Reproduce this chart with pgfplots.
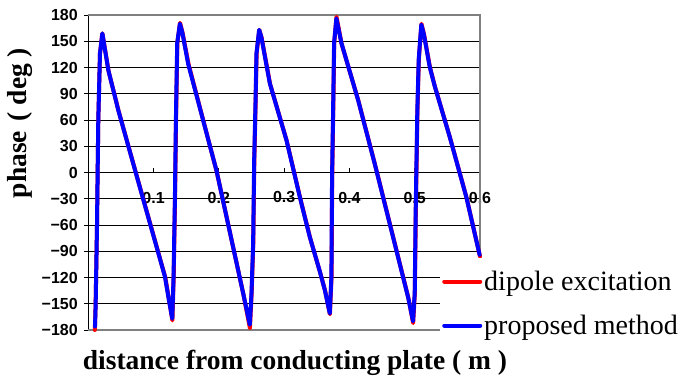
\documentclass[border=0pt]{standalone}
\usepackage{pgfplots}
\pgfplotsset{compat=1.18}
\usepackage{fontspec}
\setmainfont{Liberation Serif}
\setsansfont{Liberation Sans}

\pgfplotstableread{
x y
0.0100 -180
0.0112 -152
0.0133 -62
0.0153 60
0.0179 136
0.0215 159
0.0238 149
0.0310 116
0.0465 70
0.0720 2
0.0950 -59
0.1180 -120
0.1240 -147
0.1288 -169
0.1308 -119
0.1329 -28
0.1344 60
0.1364 148
0.1405 171
0.1443 160
0.1535 124
0.1970 0
0.2378 -140
0.2476 -178
0.2502 -138
0.2527 -81
0.2543 14
0.2563 79
0.2578 136
0.2619 163
0.2655 154
0.2785 101
0.3040 36
0.3245 -29
0.3395 -74
0.3550 -114
0.3627 -135
0.3701 -162
0.3726 -119
0.3736 -5
0.3752 71
0.3767 148
0.3802 178
0.3880 147
0.4137 82
0.4392 9
0.4647 -67
0.4902 -143
0.4976 -172
0.5002 -138
0.5017 -43
0.5042 71
0.5063 129
0.5103 170
0.5145 157
0.5234 120
0.5310 98
0.5540 40
0.5795 -29
0.6000 -96
}\dipole

\pgfplotstableread{
x y
0.0103 -176
0.0113 -150
0.0133 -62
0.0153 60
0.0179 136
0.0215 159
0.0235 150
0.0307 117
0.0460 71
0.0715 3
0.0944 -58
0.1174 -119
0.1235 -146
0.1286 -167
0.1306 -119
0.1327 -28
0.1342 60
0.1362 148
0.1403 170
0.1440 160
0.1530 124
0.1964 2
0.2372 -138
0.2474 -174
0.2500 -138
0.2525 -81
0.2541 14
0.2561 79
0.2576 136
0.2617 163
0.2650 155
0.2780 102
0.3035 37
0.3240 -28
0.3390 -73
0.3546 -113
0.3622 -134
0.3699 -161
0.3724 -119
0.3734 -5
0.3750 71
0.3765 148
0.3800 176
0.3877 148
0.4132 83
0.4387 10
0.4642 -66
0.4897 -142
0.4974 -170
0.5000 -138
0.5015 -43
0.5040 71
0.5061 129
0.5101 169
0.5140 158
0.5229 121
0.5305 99
0.5535 41
0.5790 -28
0.5994 -94
}\proposed

\begin{document}
\begin{tikzpicture}
\useasboundingbox (-88.3pt,-52pt) rectangle (593.7pt,330pt);
\begin{axis}[
  at={(0,0)}, anchor=south west,
  scale only axis,
  width=391.7pt, height=315pt,
  xmin=0, xmax=0.6, ymin=-180, ymax=180,
  axis x line*=middle, axis y line*=left,
  axis line style={black, line width=0.9pt},
  xtick={0,0.1,0.2,0.3,0.4,0.5,0.6},
  xticklabels={0,0.1,0.2,0.3,0.4,0.5,0.6},
  ytick={-180,-150,-120,-90,-60,-30,0,30,60,90,120,150,180},
  yticklabels={−180,−150,−120,−90,−60,−30,0,30,60,90,120,150,180},
  xtick align=inside, ytick align=outside,
  major tick length=4pt,
  tick style={black, line width=0.8pt},
  ymajorgrids,
  major grid style={black, line width=0.8pt},
  tick label style={font=\sffamily\bfseries\fontsize{16}{18}\selectfont},
  xticklabel style={anchor=center, yshift=-25pt},
  yticklabel style={anchor=east, xshift=-3pt},
  xlabel={distance from conducting plate ( m )},
  xlabel style={at={(axis description cs:0.5277,-0.104)}, anchor=center,
    font=\bfseries\fontsize{27.5}{30}\selectfont},
  ylabel={phase\hspace{0.35em}( deg )},
  ylabel style={at={(axis description cs:-0.1744,0.657)}, anchor=center, rotate=0,
    font=\bfseries\fontsize{27.5}{30}\selectfont},
  legend style={at={(axis description cs:0.898,0.2286)}, anchor=north west,
    fill=white, draw=none, font=\fontsize{28}{30}\selectfont,
    row sep=19pt, inner xsep=2pt, inner ysep=11pt},
  legend cell align=left,
  legend image code/.code={\draw[#1, line width=4pt] (0pt,0pt) -- (36pt,0pt);},
  clip=false,
]
\draw[gray, line width=1.4pt] (rel axis cs:0,0) -- (rel axis cs:1,0) -- (rel axis cs:1,1) -- (rel axis cs:0,1);
\addplot[red, line width=4pt, line join=round, line cap=round] table[x=x,y=y] {\dipole};
\addlegendentry{dipole excitation}
\addplot[blue, line width=4pt, line join=round, line cap=round] table[x=x,y=y] {\proposed};
\addlegendentry{proposed method}
\end{axis}
\end{tikzpicture}
\end{document}
